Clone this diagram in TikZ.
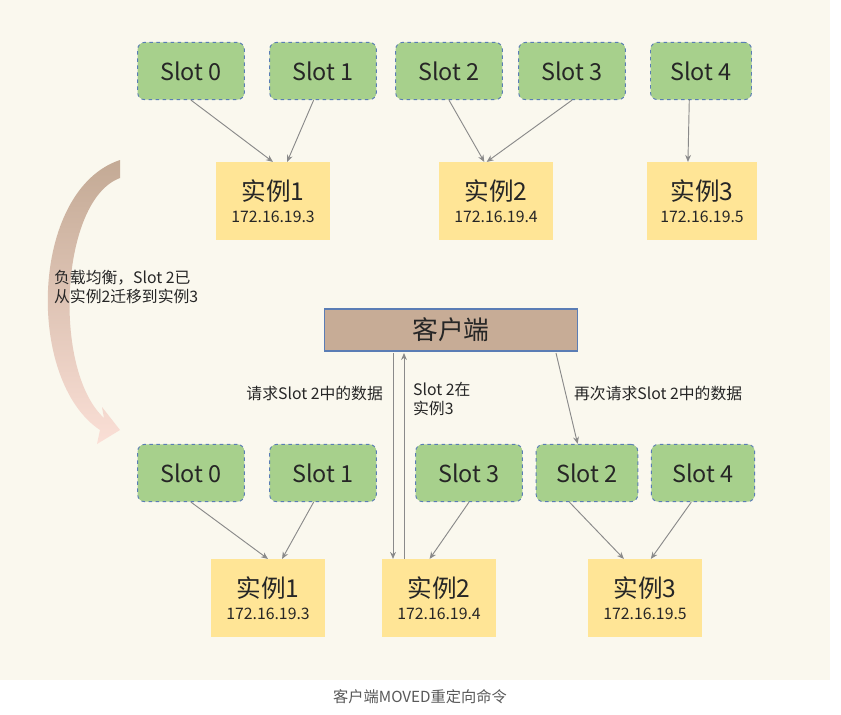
\documentclass[tikz,border=0pt]{standalone}
\usepackage{fontspec}
\setmainfont{Noto Sans CJK SC}
\usetikzlibrary{arrows.meta}
\definecolor{bgcream}{HTML}{FAF8EE}
\definecolor{slotgreen}{HTML}{A7D08C}
\definecolor{slotedge}{HTML}{5A7DB5}
\definecolor{instyellow}{HTML}{FFE596}
\definecolor{clientbrown}{HTML}{C7AC96}
\definecolor{linegray}{HTML}{8A8A8A}
\tikzset{
  slot/.style={draw=slotedge, dashed, thick, fill=slotgreen, rounded corners=6pt,
    minimum width=3.2cm, minimum height=1.72cm, font=\fontsize{20}{20}\selectfont, text=black!85},
  inst/.style={fill=instyellow, minimum width=3.4cm, minimum height=2.33cm, align=center,
    text=black!85},
  link/.style={draw=linegray, thick, -{Stealth[length=6pt,width=5pt]}},
  lbl/.style={font=\fontsize{13.5}{16}\selectfont, text=black!85, align=left}
}
\newcommand{\insttext}[2]{\fontsize{21}{24}\selectfont #1\\[7pt]\fontsize{13.5}{15}\selectfont #2}
\begin{document}
\begin{tikzpicture}[x=0.03cm, y=-0.03cm]
  % background
  \useasboundingbox (0,0) rectangle (841,714);
  \fill[white] (0,0) rectangle (841,714);
  \fill[bgcream] (0,0) rectangle (830,680);

  % top row
  \node[slot] (ts0) at (191,71) {Slot 0};
  \node[slot] (ts1) at (323,71) {Slot 1};
  \node[slot] (ts2) at (449,71) {Slot 2};
  \node[slot] (ts3) at (572,71) {Slot 3};
  \node[slot, minimum width=3.03cm] (ts4) at (701,71) {Slot 4};
  \node[inst] (ti1) at (273,201) {\insttext{实例1}{172.16.19.3}};
  \node[inst] (ti2) at (496,201) {\insttext{实例2}{172.16.19.4}};
  \node[inst, minimum width=3.3cm] (ti3) at (702,201) {\insttext{实例3}{172.16.19.5}};
  \draw[link] (ts0.south) -- (ti1.north);
  \draw[link] ([xshift=-8]ts1.south) -- ([xshift=12]ti1.north);
  \draw[link] (ts2.south) -- ([xshift=-10]ti2.north);
  \draw[link] (ts3.south) -- ([xshift=-8]ti2.north);
  \draw[link] ([xshift=-10]ts4.south) -- ([xshift=-12]ti3.north);

  % migration arrow
  \shade[top color=clientbrown!95!gray, bottom color=red!10!bgcream, draw=none]
    (120,160) .. controls (30,190) and (25,380) .. (100,430)
    -- (97,444) -- (120,430) -- (102,407) -- (104,418)
    .. controls (52,370) and (60,200) .. (120,178) -- cycle;
  \node[lbl, anchor=north west] (mig) at (50,266) {负载均衡，Slot 2已\\从实例2迁移到实例3};

  % client
  \node[draw=slotedge, line width=1pt, fill=clientbrown, minimum width=7.6cm, minimum height=1.26cm,
    font=\fontsize{22}{22}\selectfont, text=black!85] (cli) at (451,330) {客户端};

  % bottom row
  \node[slot] (bs0) at (191,473) {Slot 0};
  \node[slot] (bs1) at (323,473) {Slot 1};
  \node[slot] (bs3) at (469,473) {Slot 3};
  \node[slot, minimum width=3.05cm] (bs2) at (587,473) {Slot 2};
  \node[slot, minimum width=3.1cm] (bs4) at (703,473) {Slot 4};
  \node[inst] (bi1) at (268,598) {\insttext{实例1}{172.16.19.3}};
  \node[inst] (bi2) at (439,598) {\insttext{实例2}{172.16.19.4}};
  \node[inst] (bi3) at (645,598) {\insttext{实例3}{172.16.19.5}};
  \draw[link] (bs0.south) -- (bi1.north);
  \draw[link] ([xshift=-8]bs1.south) -- ([xshift=12]bi1.north);
  \draw[link] (bs3.south) -- ([xshift=-8]bi2.north);
  \draw[link] ([xshift=-15]bs2.south) -- ([xshift=-18]bi3.north);
  \draw[link] ([xshift=-10]bs4.south) -- ([xshift=5]bi3.north);

  % requests
  \coordinate (q1) at (393,353);
  \coordinate (r1) at (404,353);
  \draw[link] (q1) -- (q1 |- bi2.north);
  \draw[link] (r1 |- bi2.north) -- (r1);
  \draw[link] (556,353) -- ([xshift=-8]bs2.north);
  \node[lbl, anchor=east] (req1) at (387,393) {请求Slot 2中的数据};
  \node[lbl, anchor=north west] (ans) at (409,378) {Slot 2在\\实例3};
  \node[lbl, anchor=west] (req2) at (570,393) {再次请求Slot 2中的数据};

  % caption
  \node[font=\fontsize{13}{15}\selectfont, text=black!65] (cap) at (420,697) {客户端MOVED重定向命令};
\end{tikzpicture}
\end{document}
